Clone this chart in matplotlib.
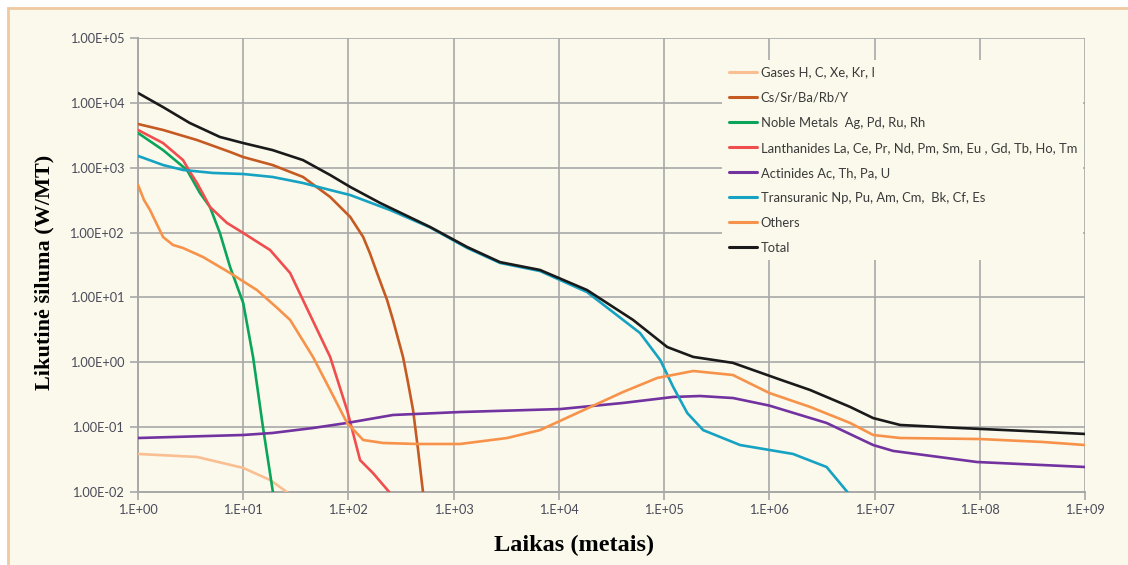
import matplotlib
matplotlib.use("Agg")
import matplotlib.pyplot as plt
from matplotlib.patches import Rectangle

# ---------------- data (years, W/MT) ----------------
gases_t = [1, 3.64, 10, 18, 26.7]
gases_w = [0.0386, 0.0347, 0.0235, 0.0153, 0.0097]

cs_t = [1, 1.73, 3.64, 7.5, 10, 19, 37, 67, 104, 138, 160, 187, 233, 265, 330, 369, 411, 459, 512]
cs_w = [4720, 3820, 2670, 1750, 1460, 1100, 720, 354, 174, 85.5, 48, 23.8, 9.1, 4.5, 1.21, 0.48, 0.184, 0.0445, 0.0097]

noble_t = [1, 1.73, 2.92, 3.88, 4.83, 6.0, 7.5, 10, 12.4, 15.4, 19.2]
noble_w = [3430, 1870, 923, 407, 248, 98.6, 29.5, 8.2, 1.21, 0.1, 0.0097]

lanth_t = [1, 1.73, 2.68, 3.12, 3.64, 4.83, 7.0, 10, 18, 27.9, 37, 67, 97, 129, 171, 248]
lanth_w = [3820, 2400, 1310, 859, 581, 248, 141, 98.6, 53.8, 23.8, 9.1, 1.21, 0.184, 0.031, 0.0196, 0.0097]

actin_t = [1, 10, 19, 46, 97, 265, 1150, 1.03e4, 4.07e4, 1.22e5, 2.2e5, 4.53e5, 1.0e6,
           3.5e6, 9.7e6, 1.5e7, 9.4e7, 1e9]
actin_w = [0.068, 0.0757, 0.0813, 0.097, 0.116, 0.154, 0.171, 0.19, 0.236, 0.292, 0.302, 0.281, 0.215,
           0.116, 0.053, 0.043, 0.029, 0.0243]

trans_t = [1, 1.73, 2.68, 5.16, 10, 19, 37, 67, 104, 248, 597, 1340, 2760, 6620, 1.85e4,
           5.9e4, 9.2e4, 1.22e5, 1.66e5, 2.35e5, 5.27e5, 1.0e6, 1.68e6, 3.5e6, 5.6e6]
trans_w = [1520, 1100, 923, 830, 800, 720, 581, 453, 379, 223, 120, 58, 34, 25.5, 12.1,
           2.83, 1.08, 0.416, 0.165, 0.090, 0.053, 0.0445, 0.0386, 0.0243, 0.0097]

others_t = [1, 1.14, 1.3, 1.73, 2.15, 2.68, 4.15, 7.5, 13.5, 21, 27.9, 46, 67, 97, 138, 213, 449, 1150,
            3220, 6620, 1.36e4, 4.07e4, 8.6e4, 1.89e5, 4.5e5, 1.0e6, 2.44e6, 5.86e6, 9.7e6,
            1.75e7, 1e8, 4e8, 1e9]
others_w = [542, 318, 223, 85.5, 64.4, 57.8, 42, 23.8, 13, 6.9, 4.5, 1.21, 0.374, 0.116, 0.0634, 0.057, 0.055, 0.055,
            0.068, 0.090, 0.154, 0.348, 0.573, 0.734, 0.637, 0.336, 0.205, 0.116, 0.0757,
            0.068, 0.0656, 0.059, 0.053]

total_t = [1, 1.73, 3.1, 6.0, 10, 19, 37, 67, 104, 200, 597, 1340, 2760, 6620, 1.85e4, 5.07e4,
           1.07e5, 1.89e5, 4.5e5, 1.27e6, 2.44e6, 5.86e6, 9.7e6, 1.75e7, 6.5e7, 2.8e8, 1e9]
total_w = [14200, 8600, 4900, 2980, 2400, 1870, 1310, 772, 505, 286, 122, 60, 35, 26.5, 13, 4.5,
           1.72, 1.21, 0.98, 0.54, 0.374, 0.205, 0.138, 0.108, 0.097, 0.087, 0.0785]

series_labels = [
    "Gases H, C, Xe, Kr, I",
    "Cs/Sr/Ba/Rb/Y",
    "Noble Metals  Ag, Pd, Ru, Rh",
    "Lanthanides La, Ce, Pr, Nd, Pm, Sm, Eu , Gd, Tb, Ho, Tm",
    "Actinides Ac, Th, Pa, U",
    "Transuranic Np, Pu, Am, Cm,  Bk, Cf, Es",
    "Others",
    "Total",
]
series_colors = ["#F9BF92", "#C65A23", "#0AA55A", "#F04E4E", "#7232A0", "#16A2C2", "#F7924A", "#1A1A1A"]

x_ticks = [1e0, 1e1, 1e2, 1e3, 1e4, 1e5, 1e6, 1e7, 1e8, 1e9]
x_tick_labels = ["1.E+00", "1.E+01", "1.E+02", "1.E+03", "1.E+04", "1.E+05", "1.E+06", "1.E+07", "1.E+08", "1.E+09"]
y_ticks = [1e-2, 1e-1, 1e0, 1e1, 1e2, 1e3, 1e4, 1e5]
y_tick_labels = ["1.00E-02", "1.00E-01", "1.00E+00", "1.00E+01", "1.00E+02", "1.00E+03", "1.00E+04", "1.00E+05"]

x_label = "Laikas (metais)"
y_label = "Likutinė šiluma (W/MT)"

# ---------------- drawing ----------------
BG = "#FBF9EB"
GRID = "#A8A8A8"

fig = plt.figure(figsize=(11.28, 5.65), dpi=100)
fig.patch.set_facecolor("white")
# cream panel with tan border (only left/top visible)
fig.patches.append(Rectangle((8 / 1128, -0.1), 1.2, (565 - 8) / 565 + 0.1,
                             transform=fig.transFigure, facecolor=BG,
                             edgecolor="#EFC9A0", linewidth=2.0, zorder=-5))

ax = fig.add_axes([138 / 1128, 1 - 492 / 565, (1085 - 138) / 1128, (492 - 38) / 565])
ax.set_zorder(2)
ax.set_facecolor(BG)
ax.set_xscale("log")
ax.set_yscale("log")
ax.set_xlim(1, 1e9)
ax.set_ylim(1e-2, 1e5)

data = [(gases_t, gases_w), (cs_t, cs_w), (noble_t, noble_w), (lanth_t, lanth_w),
        (actin_t, actin_w), (trans_t, trans_w), (others_t, others_w), (total_t, total_w)]
handles = []
for (t, w), lab, col in zip(data, series_labels, series_colors):
    h, = ax.plot(t, w, color=col, lw=1.9, label=lab, solid_capstyle="round",
                 solid_joinstyle="round", zorder=3, clip_on=True)
    handles.append(h)

ax.set_xticks(x_ticks)
ax.set_xticklabels(x_tick_labels)
ax.set_yticks(y_ticks)
ax.set_yticklabels(y_tick_labels)
ax.minorticks_off()
ax.grid(True, color=GRID, lw=1.2, zorder=1)
ax.set_axisbelow(True)

for s in ["top", "right"]:
    ax.spines[s].set_visible(False)
for s in ["left", "bottom"]:
    ax.spines[s].set_color(GRID)
    ax.spines[s].set_linewidth(1.4)
ax.tick_params(axis="both", which="major", color=GRID, length=6, width=1.2,
               labelcolor="#4A4A5A", labelsize=9.2)
ax.tick_params(axis="y", pad=4)
ax.tick_params(axis="x", pad=3)
for lbl in ax.get_xticklabels() + ax.get_yticklabels():
    lbl.set_fontfamily(["Lato", "DejaVu Sans"])

ax.set_xlabel(x_label, fontfamily="Liberation Serif", fontweight="bold", fontsize=17.5)
ax.xaxis.set_label_coords((574 - 138) / 947, 1 - (545 - 38) / 454)
ax.xaxis.label.set_verticalalignment("center")
ax.set_ylabel(y_label, fontfamily="Liberation Serif", fontweight="bold", fontsize=16)
ax.yaxis.set_label_coords((44 - 138) / 947, 1 - (272 - 38) / 454)
ax.yaxis.label.set_verticalalignment("center")

leg = ax.legend(handles=handles, loc="upper left", bbox_to_anchor=((722 - 138) / 947, 1 - (60 - 38) / 454),
                frameon=True, facecolor=BG, edgecolor=BG, framealpha=1, fancybox=False,
                prop={"family": ["Lato", "DejaVu Sans"], "size": 9.4},
                handlelength=2.15, handletextpad=0.3, labelspacing=1.0, borderpad=0.5,
                borderaxespad=0)
leg.get_frame().set_linewidth(0)
leg.set_zorder(2)
for txt in leg.get_texts():
    txt.set_color("#3A3A3A")
for lh in leg.get_lines():
    lh.set_linewidth(2.2)

fig.savefig("out.png", dpi=100, facecolor=fig.get_facecolor())
